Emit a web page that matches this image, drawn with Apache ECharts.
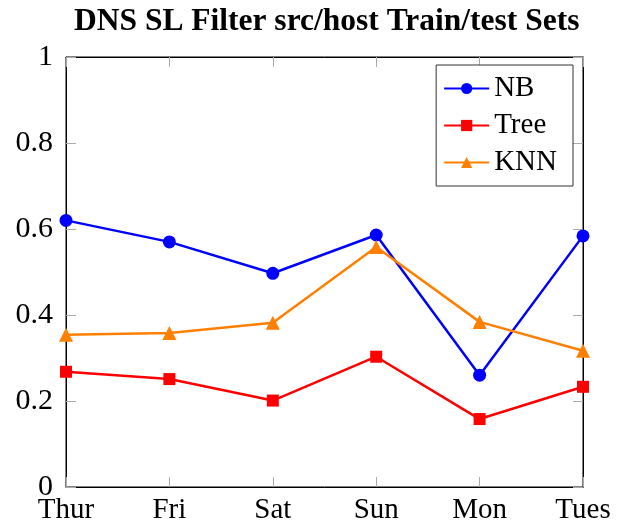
<!DOCTYPE html>
<html>
<head>
    <meta charset="utf-8" />
    <title>DNS SL Filter src/host Train/test Sets</title>
    <script src="https://cdn.jsdelivr.net/npm/echarts@6/dist/echarts.min.js"></script>
    <style>
        html, body { margin: 0; padding: 0; background: #fff; }
        #container { width: 624px; height: 527px; }
    </style>
</head>
<body>
    <div id="container"></div>
    <script>
    // 数据
    var days = ['Thur', 'Fri', 'Sat', 'Sun', 'Mon', 'Tues'];
    var nbVals = [0.620, 0.570, 0.497, 0.586, 0.260, 0.584];
    var treeVals = [0.268, 0.251, 0.201, 0.303, 0.158, 0.233];
    var knnVals = [0.354, 0.358, 0.382, 0.558, 0.384, 0.317];
    var yTicks = [0, 0.2, 0.4, 0.6, 0.8, 1];

    var serif = '"Liberation Serif", "DejaVu Serif", serif';
    var tickStyle = { show: true, inside: true, length: 10, lineStyle: { color: '#aaa', width: 1 } };
    var frameLine = { show: true, onZero: false, lineStyle: { color: '#000', width: 1 } };

    var myChart = echarts.init(document.getElementById('container'));
    var option = {
        animation: false,
        backgroundColor: '#fff',
        title: {
            text: 'DNS SL Filter src/host Train/test Sets',
            left: 69,
            top: 1,
            textStyle: { fontFamily: serif, fontWeight: 'bold', fontSize: 31.5, color: '#000' }
        },
        // 外框
        grid: {
            left: 66, top: 57, width: 517, height: 430, containLabel: false,
            show: true, borderColor: '#000', borderWidth: 1, backgroundColor: 'transparent'
        },
        legend: {
            orient: 'vertical',
            right: 51,
            top: 65,
            padding: [9, 16, 9, 7],
            itemGap: 8,
            itemWidth: 45,
            itemHeight: 14,
            backgroundColor: '#fff',
            borderColor: '#333',
            borderWidth: 1,
            borderRadius: 0,
            textStyle: { fontFamily: serif, fontSize: 29, color: '#000' },
            data: ['NB', 'Tree', 'KNN']
        },
        xAxis: [{
            type: 'category',
            gridIndex: 0,
            data: days,
            position: 'bottom',
            boundaryGap: false,
            axisLine: frameLine,
            axisTick: tickStyle,
            splitLine: { show: false },
            axisLabel: { fontFamily: serif, fontSize: 29, color: '#000', margin: 9 }
        }, {
            type: 'category',
            gridIndex: 0,
            data: days,
            position: 'top',
            boundaryGap: false,
            axisLine: frameLine,
            axisTick: tickStyle,
            splitLine: { show: false },
            axisLabel: { show: false }
        }],
        yAxis: [{
            type: 'value',
            min: yTicks[0],
            max: yTicks[yTicks.length - 1],
            interval: 0.2,
            axisLine: frameLine,
            axisTick: tickStyle,
            splitLine: { show: false },
            axisLabel: { fontFamily: serif, fontSize: 30, color: '#000', margin: 13 }
        }, {
            type: 'value',
            position: 'right',
            min: yTicks[0],
            max: yTicks[yTicks.length - 1],
            interval: 0.2,
            axisLine: frameLine,
            axisTick: tickStyle,
            splitLine: { show: false },
            axisLabel: { show: false }
        }],
        series: [{
            name: 'NB',
            type: 'line',
            data: nbVals,
            symbol: 'circle',
            symbolSize: 13,
            itemStyle: { color: '#0000ff' },
            lineStyle: { color: '#0000ff', width: 2.5 }
        }, {
            name: 'Tree',
            type: 'line',
            data: treeVals,
            symbol: 'rect',
            symbolSize: 12,
            itemStyle: { color: '#ff0000' },
            lineStyle: { color: '#ff0000', width: 2.5 }
        }, {
            name: 'KNN',
            type: 'line',
            data: knnVals,
            symbol: 'triangle',
            symbolSize: 14,
            itemStyle: { color: '#ff8000' },
            lineStyle: { color: '#ff8000', width: 2.5 }
        }]
    };
    myChart.setOption(option);
    </script>
</body>
</html>
